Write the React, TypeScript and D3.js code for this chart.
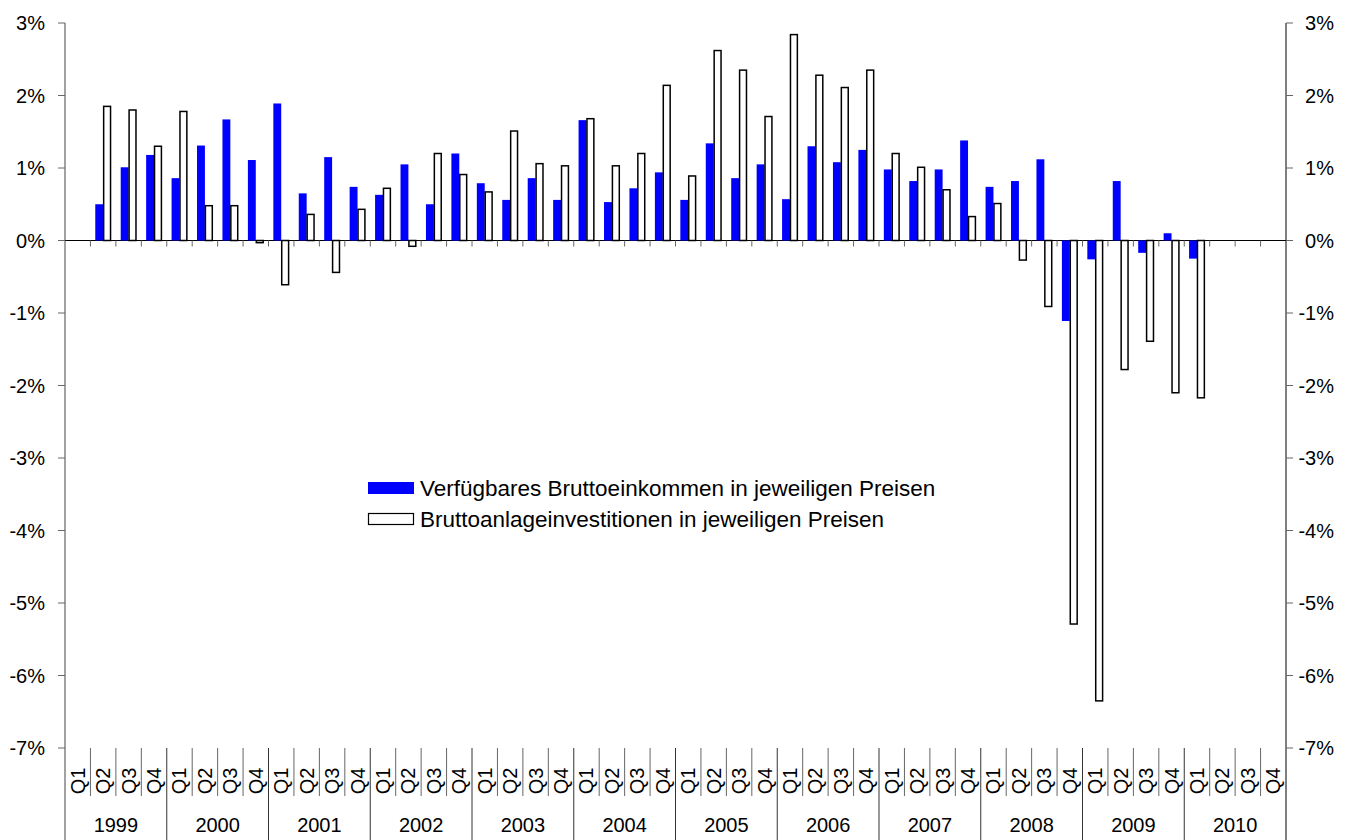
import React from "react";
import * as d3 from "d3";

const years = ["1999", "2000", "2001", "2002", "2003", "2004", "2005", "2006", "2007", "2008", "2009", "2010"];
const quarterNames = ["Q1", "Q2", "Q3", "Q4"];
const categories = years.flatMap((y) => quarterNames.map((q) => `${y} ${q}`));

// Verfügbares Bruttoeinkommen in jeweiligen Preisen (% change)
const income: (number | null)[] = [
  null, 0.50, 1.01, 1.18,
  0.86, 1.31, 1.67, 1.11,
  1.89, 0.65, 1.15, 0.74,
  0.63, 1.05, 0.50, 1.20,
  0.79, 0.56, 0.86, 0.56,
  1.66, 0.53, 0.72, 0.94,
  0.56, 1.34, 0.86, 1.05,
  0.57, 1.30, 1.08, 1.25,
  0.98, 0.82, 0.98, 1.38,
  0.74, 0.82, 1.12, -1.11,
  -0.26, 0.82, -0.17, 0.10,
  -0.25, null, null, null,
];

// Bruttoanlageinvestitionen in jeweiligen Preisen (% change)
const investment: (number | null)[] = [
  null, 1.85, 1.80, 1.30,
  1.78, 0.48, 0.48, -0.03,
  -0.61, 0.36, -0.44, 0.43,
  0.72, -0.08, 1.20, 0.91,
  0.67, 1.51, 1.06, 1.03,
  1.68, 1.03, 1.20, 2.14,
  0.89, 2.62, 2.35, 1.71,
  2.84, 2.28, 2.11, 2.35,
  1.20, 1.01, 0.70, 0.33,
  0.51, -0.27, -0.91, -5.29,
  -6.35, -1.78, -1.39, -2.10,
  -2.17, null, null, null,
];

const yTicks = [3, 2, 1, 0, -1, -2, -3, -4, -5, -6, -7];
const legendLabels = [
  "Verfügbares Bruttoeinkommen in jeweiligen Preisen",
  "Bruttoanlageinvestitionen in jeweiligen Preisen",
];

const W = 1357;
const H = 840;
const left = 65;
const right = 1286;
const top = 23;
const bottom = 748;
const font = "'Liberation Sans', Arial, sans-serif";

export default function App() {
  const x = d3.scaleBand<string>().domain(categories).range([left, right]).padding(0);
  const y = d3.scaleLinear().domain([-7, 3]).range([bottom, top]);
  const bw = x.bandwidth();
  const barW = bw * 0.31;
  const groupOff = (bw - 2 * barW) / 2;
  const y0 = y(0);

  return (
    <svg width={W} height={H} style={{ position: "absolute", left: 0, top: 0, background: "#fff" }} fontFamily={font}>
      {/* zero line */}
      <line x1={left} x2={right} y1={y0} y2={y0} stroke="#000" strokeWidth={1} />
      {/* ticks on zero line at quarter boundaries */}
      {categories.map((c, i) =>
        i === 0 ? null : (
          <line key={"zt" + i} x1={x(c)!} x2={x(c)!} y1={y0} y2={y0 + 6} stroke="#666" strokeWidth={1} />
        )
      )}
      {/* bars */}
      {categories.map((c, i) => {
        const bx = x(c)! + groupOff;
        const a = income[i];
        const b = investment[i];
        return (
          <g key={"b" + i}>
            {a !== null && (
              <rect x={bx} y={Math.min(y(a), y0)} width={barW} height={Math.abs(y(a) - y0)} fill="#0000FF" />
            )}
            {b !== null && (
              <rect
                x={bx + barW + 0.5}
                y={Math.min(y(b), y0)}
                width={barW - 1}
                height={Math.abs(y(b) - y0)}
                fill="#fff"
                stroke="#000"
                strokeWidth={1.5}
              />
            )}
          </g>
        );
      })}
      {/* left axis */}
      <line x1={left} x2={left} y1={top} y2={H} stroke="#444" strokeWidth={1} />
      {yTicks.map((t) => (
        <g key={"l" + t}>
          <line x1={left - 7} x2={left} y1={y(t)} y2={y(t)} stroke="#666" />
          <text x={45} y={y(t)} dy="0.35em" textAnchor="end" fontSize={20} fill="#000">
            {t + "%"}
          </text>
        </g>
      ))}
      {/* right axis */}
      <line x1={right} x2={right} y1={top} y2={H} stroke="#000" strokeWidth={1} />
      {yTicks.map((t) => (
        <g key={"r" + t}>
          <line x1={right} x2={right + 7} y1={y(t)} y2={y(t)} stroke="#666" />
          <text x={1334} y={y(t)} dy="0.35em" textAnchor="end" fontSize={20} fill="#000">
            {t + "%"}
          </text>
        </g>
      ))}
      {/* category axis separators */}
      {categories.map((c, i) => {
        const xx = x(c)!;
        const isYear = i % 4 === 0;
        return i === 0 ? null : (
          <line key={"s" + i} x1={xx} x2={xx} y1={bottom} y2={isYear ? H : 796} stroke={isYear ? "#333" : "#666"} strokeWidth={1} />
        );
      })}
      {/* quarter labels */}
      {categories.map((c, i) => {
        const cx = x(c)! + bw / 2;
        const cy = 781;
        return (
          <text
            key={"q" + i}
            transform={`translate(${cx},${cy}) rotate(-90)`}
            textAnchor="middle"
            dy="0.35em"
            fontSize={20}
            fill="#000"
          >
            {quarterNames[i % 4]}
          </text>
        );
      })}
      {/* year labels */}
      {years.map((yr, j) => {
        const cx = x(categories[j * 4])! + bw * 2;
        return (
          <text key={"y" + yr} x={cx} y={825} dy="0.35em" textAnchor="middle" fontSize={20} fill="#000">
            {yr}
          </text>
        );
      })}
      {/* legend */}
      <g>
        <rect x={368} y={482} width={46} height={12} fill="#0000FF" />
        <text x={420} y={488} dy="0.35em" fontSize={22.5} fill="#000">
          {legendLabels[0]}
        </text>
        <rect x={368.5} y={513.5} width={45} height={11} fill="#fff" stroke="#000" strokeWidth={1.2} />
        <text x={420} y={519} dy="0.35em" fontSize={22.5} fill="#000">
          {legendLabels[1]}
        </text>
      </g>
    </svg>
  );
}
